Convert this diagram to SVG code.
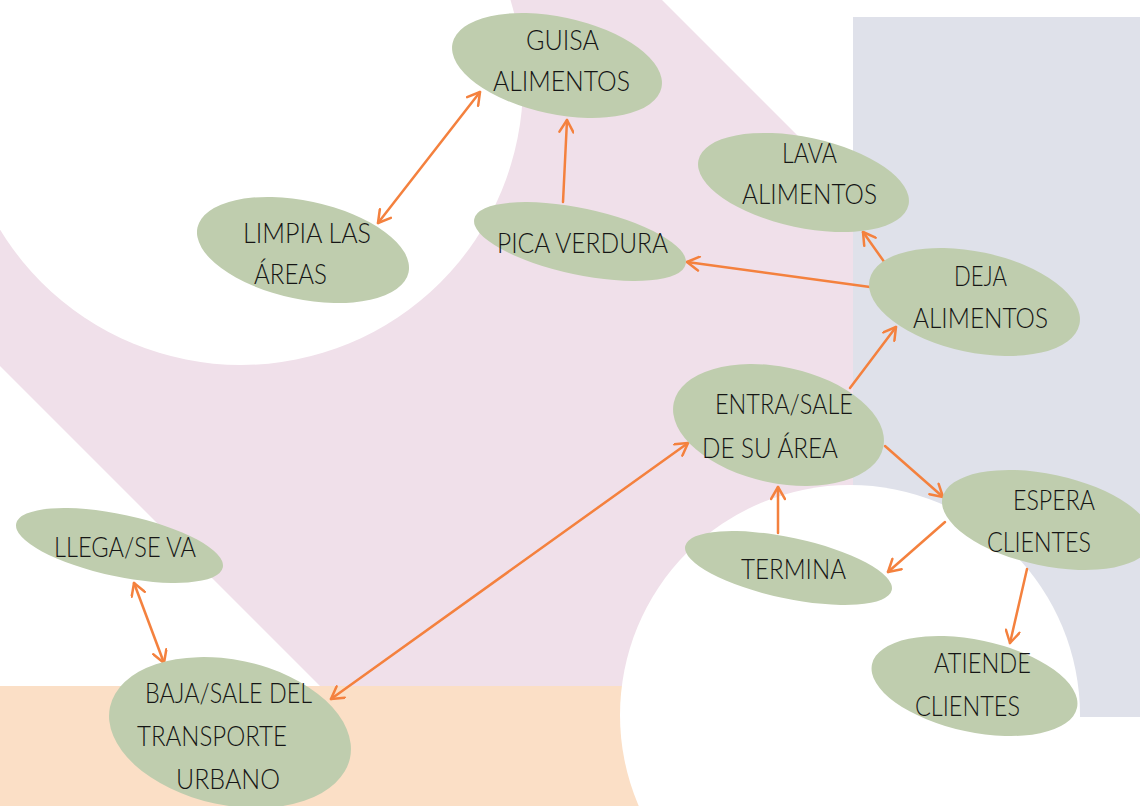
<svg xmlns="http://www.w3.org/2000/svg" width="1140" height="806" viewBox="0 0 1140 806">
<style>
.bg-pink{fill:#f0e0ea}
.bg-blue{fill:#dfe1ea}
.bg-peach{fill:#fbdfc6}
.bg-white{fill:#ffffff}
.node ellipse{fill:#bfcdae}
.node text{font-family:Lato,"Open Sans","Liberation Sans",sans-serif;font-size:27px;font-weight:300;fill:#151515}
.conn line{stroke:#f4813e;stroke-width:2.5;fill:none;stroke-linecap:round}
</style>
<defs>
<marker id="arr" viewBox="0 0 16 16" refX="14" refY="8" markerWidth="16" markerHeight="16" markerUnits="userSpaceOnUse" orient="auto-start-reverse">
<path d="M2,1 L14,8 L2,15" fill="none" stroke="#f4813e" stroke-width="2.5" stroke-linecap="round" stroke-linejoin="round"/>
</marker>
</defs>
<rect width="1140" height="806" fill="#ffffff"/>
<g id="background">
<polygon class="bg-pink" points="-366,0 662,0 1180,518 667,1033"/>
<rect class="bg-peach" x="0" y="686" width="720" height="120"/>
<rect class="bg-blue" x="853" y="17" width="287" height="700"/>
<circle class="bg-white" cx="241" cy="83" r="282"/>
<circle class="bg-white" cx="850" cy="715" r="230"/>
</g>
<g id="connectors" class="conn">
<line x1="378" y1="223" x2="480" y2="92" marker-start="url(#arr)" marker-end="url(#arr)"/>
<line x1="563" y1="202" x2="567" y2="120" marker-end="url(#arr)"/>
<line x1="870" y1="287" x2="687" y2="262" marker-end="url(#arr)"/>
<line x1="885" y1="263" x2="863" y2="232" marker-end="url(#arr)"/>
<line x1="850" y1="388" x2="896" y2="327" marker-end="url(#arr)"/>
<line x1="331" y1="699" x2="688" y2="443" marker-start="url(#arr)" marker-end="url(#arr)"/>
<line x1="134" y1="583" x2="164" y2="663" marker-start="url(#arr)" marker-end="url(#arr)"/>
<line x1="885" y1="446" x2="943" y2="497" marker-end="url(#arr)"/>
<line x1="778" y1="533" x2="778" y2="487" marker-end="url(#arr)"/>
<line x1="945" y1="522" x2="888" y2="572" marker-end="url(#arr)"/>
<line x1="1027" y1="569" x2="1010" y2="643" marker-end="url(#arr)"/>
</g>
<g id="guisa" class="node">
<ellipse cx="557" cy="65.5" rx="106.8" ry="48.6" transform="rotate(12 557 65.5)"/>
<text x="526" y="50" textLength="73" lengthAdjust="spacingAndGlyphs">GUISA</text>
<text x="493" y="91" textLength="137" lengthAdjust="spacingAndGlyphs">ALIMENTOS</text>
</g>
<g id="lava" class="node">
<ellipse cx="803.5" cy="182.5" rx="107.4" ry="45.2" transform="rotate(12 803.5 182.5)"/>
<text x="782" y="163" textLength="55" lengthAdjust="spacingAndGlyphs">LAVA</text>
<text x="742" y="204" textLength="135" lengthAdjust="spacingAndGlyphs">ALIMENTOS</text>
</g>
<g id="limpia" class="node">
<ellipse cx="303" cy="250" rx="107.9" ry="49.1" transform="rotate(12 303 250)"/>
<text x="243" y="243" textLength="128" lengthAdjust="spacingAndGlyphs">LIMPIA LAS</text>
<text x="254" y="284" textLength="73" lengthAdjust="spacingAndGlyphs">ÁREAS</text>
</g>
<g id="pica" class="node">
<ellipse cx="580" cy="241.5" rx="108.1" ry="33.2" transform="rotate(12 580 241.5)"/>
<text x="497" y="253" textLength="171" lengthAdjust="spacingAndGlyphs">PICA VERDURA</text>
</g>
<g id="deja" class="node">
<ellipse cx="974.5" cy="302" rx="107.3" ry="50.3" transform="rotate(12 974.5 302)"/>
<text x="954" y="286" textLength="53" lengthAdjust="spacingAndGlyphs">DEJA</text>
<text x="913" y="328" textLength="135" lengthAdjust="spacingAndGlyphs">ALIMENTOS</text>
</g>
<g id="entra" class="node">
<ellipse cx="778.5" cy="425" rx="107.1" ry="58" transform="rotate(12 778.5 425)"/>
<text x="715" y="414" textLength="138" lengthAdjust="spacingAndGlyphs">ENTRA/SALE</text>
<text x="702" y="458" textLength="136" lengthAdjust="spacingAndGlyphs">DE SU ÁREA</text>
</g>
<g id="espera" class="node">
<ellipse cx="1047" cy="520" rx="106.9" ry="45.8" transform="rotate(12 1047 520)"/>
<text x="1013" y="510" textLength="82" lengthAdjust="spacingAndGlyphs">ESPERA</text>
<text x="987" y="552" textLength="104" lengthAdjust="spacingAndGlyphs">CLIENTES</text>
</g>
<g id="termina" class="node">
<ellipse cx="788.5" cy="568" rx="105.6" ry="30.4" transform="rotate(12 788.5 568)"/>
<text x="741" y="579" textLength="105" lengthAdjust="spacingAndGlyphs">TERMINA</text>
</g>
<g id="llega" class="node">
<ellipse cx="119.5" cy="545.5" rx="105.6" ry="31" transform="rotate(12 119.5 545.5)"/>
<text x="54" y="557" textLength="142" lengthAdjust="spacingAndGlyphs">LLEGA/SE VA</text>
</g>
<g id="baja" class="node">
<ellipse cx="230" cy="732.5" rx="122.7" ry="72.6" transform="rotate(12 230 732.5)"/>
<text x="145" y="703" textLength="167" lengthAdjust="spacingAndGlyphs">BAJA/SALE DEL</text>
<text x="137" y="746" textLength="150" lengthAdjust="spacingAndGlyphs">TRANSPORTE</text>
<text x="176" y="789" textLength="104" lengthAdjust="spacingAndGlyphs">URBANO</text>
</g>
<g id="atiende" class="node">
<ellipse cx="974.5" cy="686" rx="104.8" ry="46" transform="rotate(12 974.5 686)"/>
<text x="934" y="673" textLength="97" lengthAdjust="spacingAndGlyphs">ATIENDE</text>
<text x="915" y="716" textLength="105" lengthAdjust="spacingAndGlyphs">CLIENTES</text>
</g>
</svg>
